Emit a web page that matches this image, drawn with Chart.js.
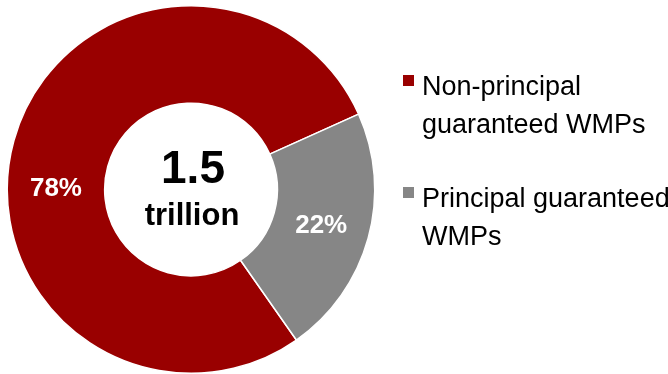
<!DOCTYPE html>
<html>
<head>
<meta charset="utf-8">
<script src="https://cdn.jsdelivr.net/npm/chart.js@4.4.0/dist/chart.umd.min.js"></script>
<style>
    html, body { margin: 0; padding: 0; background: #fff; }
    #wrap { width: 668px; height: 374px; position: relative; }
</style>
</head>
<body>
<div id="wrap"><canvas id="chart"></canvas></div>
<script>
// Data
const categories = [['Non-principal', 'guaranteed WMPs'], ['Principal guaranteed', 'WMPs']];
const shares = [78, 22];
const sliceColors = ['#990000', '#868686'];
const totalLines = ['1.5', 'trillion'];

const FONT = '"Liberation Sans", Arial, sans-serif';

// Percent labels inside the ring
const sliceLabels = {
    id: 'sliceLabels',
    afterDatasetsDraw(chart, args, opts) {
        const ctx = chart.ctx;
        const meta = chart.getDatasetMeta(0);
        ctx.save();
        ctx.fillStyle = '#fff';
        ctx.font = 'bold 26px ' + FONT;
        ctx.textAlign = 'center';
        ctx.textBaseline = 'middle';
        meta.data.forEach((arc, i) => {
            const p = arc.getProps(['x', 'y', 'startAngle', 'endAngle', 'innerRadius', 'outerRadius'], true);
            const mid = (p.startAngle + p.endAngle) / 2 + (opts.shift[i] || 0) * Math.PI / 180;
            const r = (p.innerRadius + p.outerRadius) / 2;
            ctx.fillText(shares[i] + '%', p.x + r * Math.cos(mid), p.y + r * Math.sin(mid));
        });
        ctx.restore();
    }
};

// Total in the middle hole
const centerText = {
    id: 'centerText',
    afterDatasetsDraw(chart) {
        const ctx = chart.ctx;
        const arc = chart.getDatasetMeta(0).data[0];
        ctx.save();
        ctx.fillStyle = '#000';
        ctx.textAlign = 'center';
        ctx.textBaseline = 'alphabetic';
        ctx.font = 'bold 46px ' + FONT;
        ctx.fillText(totalLines[0], arc.x + 2, arc.y - 7);
        ctx.font = 'bold 31px ' + FONT;
        ctx.fillText(totalLines[1], arc.x + 1, arc.y + 35);
        ctx.restore();
    }
};

// Legend on the right with wrapped labels
const sideLegend = {
    id: 'sideLegend',
    afterDraw(chart) {
        const ctx = chart.ctx;
        const left = 403;
        const lineGap = 38;
        let base = 95;
        ctx.save();
        ctx.font = '27px ' + FONT;
        ctx.textAlign = 'left';
        ctx.textBaseline = 'alphabetic';
        categories.forEach((lines, i) => {
            ctx.fillStyle = sliceColors[i];
            ctx.fillRect(left, base - 20, 11, 11);
            ctx.fillStyle = '#000';
            lines.forEach((t, j) => ctx.fillText(t, left + 19, base + j * lineGap));
            base += 112;
        });
        ctx.restore();
    }
};

new Chart(document.getElementById('chart'), {
    type: 'doughnut',
    data: {
        labels: categories,
        datasets: [{
            data: shares,
            backgroundColor: sliceColors,
            borderColor: '#fff',
            borderWidth: 1.5
        }]
    },
    options: {
        responsive: true,
        maintainAspectRatio: false,
        animation: false,
        rotation: 145,
        cutout: '47%',
        layout: { padding: { left: 6, right: 292, top: 5, bottom: 0 } },
        plugins: {
            legend: { display: false },
            tooltip: { enabled: false },
            sliceLabels: { shift: [-15, 0] }
        }
    },
    plugins: [sliceLabels, centerText, sideLegend]
});
</script>
</body>
</html>
